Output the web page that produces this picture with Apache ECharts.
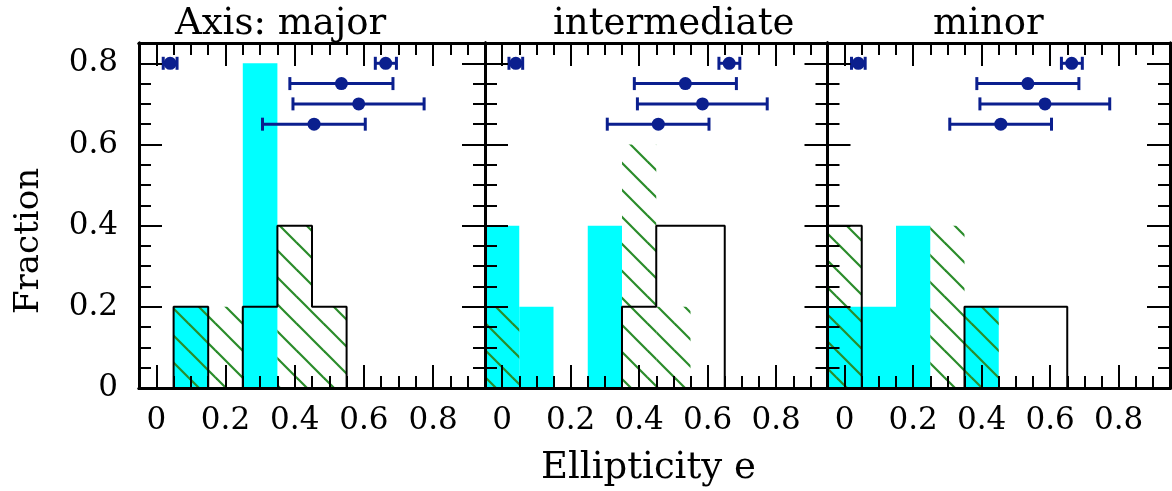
<!DOCTYPE html>
<html><head><meta charset="utf-8">
<script src="https://cdn.jsdelivr.net/npm/echarts@6/dist/echarts.min.js"></script>
<style>html,body{margin:0;padding:0;background:#fff}#c{width:1172px;height:491px}</style>
</head><body><div id="c"></div>
<script>
// ---------------- data ----------------
const panelTitles = ['Axis: major', 'intermediate', 'minor'];
const binCenters = [0, 0.1, 0.2, 0.3, 0.4, 0.5, 0.6, 0.7, 0.8, 0.9];
// cyan filled histograms
const cyanMajor = [0, 0.2, 0, 0.8, 0, 0, 0, 0, 0, 0];
const cyanInter = [0.4, 0.2, 0, 0.4, 0, 0, 0, 0, 0, 0];
const cyanMinor = [0.2, 0.2, 0.4, 0, 0.2, 0, 0, 0, 0, 0];
// green hatched histograms
const hatchMajor = [0, 0.2, 0.2, 0, 0.4, 0.2, 0, 0, 0, 0];
const hatchInter = [0.2, 0, 0, 0, 0.6, 0.2, 0, 0, 0, 0];
const hatchMinor = [0.4, 0, 0, 0.4, 0.2, 0, 0, 0, 0, 0];
// black outline histograms
const stepMajor = [0, 0.2, 0, 0.2, 0.4, 0.2, 0, 0, 0, 0];
const stepInter = [0, 0, 0, 0, 0.2, 0.4, 0.4, 0, 0, 0];
const stepMinor = [0.4, 0, 0, 0, 0.2, 0.2, 0.2, 0, 0, 0];
// points with horizontal error bars (same in every panel)
const errX  = [0.040, 0.663, 0.535, 0.585, 0.456];
const errY  = [0.80, 0.80, 0.75, 0.70, 0.65];
const errLo = [0.020, 0.633, 0.386, 0.395, 0.307];
const errHi = [0.060, 0.694, 0.684, 0.774, 0.604];
// ticks and labels
const xLabelValues = [0, 0.2, 0.4, 0.6, 0.8];
const xShortTicks = [-0.05, 0, 0.05, 0.1, 0.15, 0.2, 0.25, 0.3, 0.35, 0.4, 0.45, 0.5, 0.55, 0.6, 0.65, 0.7, 0.75, 0.8, 0.85, 0.9, 0.95];
const yLabelValues = [0, 0.2, 0.4, 0.6, 0.8];
const yShortTicks = [0, 0.05, 0.1, 0.15, 0.2, 0.25, 0.3, 0.35, 0.4, 0.45, 0.5, 0.55, 0.6, 0.65, 0.7, 0.75, 0.8, 0.85];
const xRange = [-0.05, 0.95];
const yRange = [0, 0.85];

// ---------------- layout / style ----------------
const cyanSets = [cyanMajor, cyanInter, cyanMinor];
const hatchSets = [hatchMajor, hatchInter, hatchMinor];
const stepSets = [stepMajor, stepInter, stepMinor];
const grids = [
  {left: 139, top: 43, width: 346, height: 345},
  {left: 485, top: 43, width: 342.5, height: 345},
  {left: 827.5, top: 43, width: 342.5, height: 345}
];
const FONT = 'DejaVu Serif';
const ERR_COLOR = '#0b1f8e';
const HATCH_COLOR = '#2a8c2a';
const binW = binCenters[1] - binCenters[0];

function makeHatch() {
  const s = 27;
  const c = document.createElement('canvas');
  c.width = s; c.height = s;
  const g = c.getContext('2d');
  g.strokeStyle = HATCH_COLOR;
  g.lineWidth = 2.2;
  for (let k = -1; k <= 1; k++) {
    g.beginPath();
    g.moveTo(-2 + k * s, -2);
    g.lineTo(s + 2 + k * s, s + 2);
    g.stroke();
  }
  return c;
}
const hatchPattern = {image: makeHatch(), repeat: 'repeat'};

function xAx(gi, pos, len, ticks, label) {
  return {
    type: 'value', gridIndex: gi, position: pos, min: xRange[0], max: xRange[1], z: 10,
    axisLine: {show: true, onZero: false, lineStyle: {color: '#000', width: 3}},
    axisTick: {show: true, inside: true, length: len, customValues: ticks, lineStyle: {color: '#000', width: 2}},
    axisLabel: label ? {show: true, customValues: xLabelValues, margin: 17, color: '#000',
      fontFamily: FONT, fontSize: 31, formatter: v => String(+v.toFixed(2))} : {show: false},
    splitLine: {show: false}
  };
}
function yAx(gi, pos, len, ticks, label) {
  return {
    type: 'value', gridIndex: gi, position: pos, min: yRange[0], max: yRange[1], z: 10,
    axisLine: {show: true, onZero: false, lineStyle: {color: '#000', width: 3}},
    axisTick: {show: true, inside: true, length: len, customValues: ticks, lineStyle: {color: '#000', width: 2}},
    axisLabel: label ? {show: true, customValues: yLabelValues, margin: 21, color: '#000',
      fontFamily: FONT, fontSize: 31, formatter: v => String(+v.toFixed(2))} : {show: false},
    splitLine: {show: false}
  };
}

const xAxes = [], yAxes = [], series = [];
grids.forEach((g, p) => {
  xAxes.push(xAx(p, 'bottom', 23, xLabelValues, true));
  xAxes.push(xAx(p, 'bottom', 12, xShortTicks, false));
  xAxes.push(xAx(p, 'top', 23, xLabelValues, false));
  xAxes.push(xAx(p, 'top', 12, xShortTicks, false));
  yAxes.push(yAx(p, 'left', 23, yLabelValues, p === 0));
  yAxes.push(yAx(p, 'left', 12, yShortTicks, false));
  yAxes.push(yAx(p, 'right', 23, yLabelValues, false));
  yAxes.push(yAx(p, 'right', 12, yShortTicks, false));
  const xi = 4 * p, yi = 4 * p;
  const histItem = (fill) => function (params, api) {
    const c = api.value(0), v = api.value(1);
    const a = api.coord([c - binW / 2, v]);
    const b = api.coord([c + binW / 2, 0]);
    return {type: 'rect', shape: {x: a[0], y: a[1], width: b[0] - a[0], height: b[1] - a[1]},
      style: {fill: fill, stroke: null}};
  };
  series.push({
    type: 'custom', xAxisIndex: xi, yAxisIndex: yi, z: 2, clip: true,
    renderItem: histItem('#00ffff'),
    data: binCenters.map((c, i) => [c, cyanSets[p][i]]).filter(d => d[1] > 0)
  });
  series.push({
    type: 'custom', xAxisIndex: xi, yAxisIndex: yi, z: 3, clip: true,
    renderItem: histItem(hatchPattern),
    data: binCenters.map((c, i) => [c, hatchSets[p][i]]).filter(d => d[1] > 0)
  });
  series.push({
    type: 'line', xAxisIndex: xi, yAxisIndex: yi, z: 4, step: 'middle', showSymbol: false,
    symbol: 'none', lineStyle: {color: '#000', width: 2}, animation: false,
    data: [[binCenters[0] - binW, 0]].concat(binCenters.map((c, i) => [c, stepSets[p][i]]),
      [[binCenters[binCenters.length - 1] + binW, 0]])
  });
  series.push({
    type: 'custom', xAxisIndex: xi, yAxisIndex: yi, z: 5, clip: false,
    renderItem: function (params, api) {
      const pc = api.coord([api.value(0), api.value(1)]);
      const pl = api.coord([api.value(2), api.value(1)]);
      const ph = api.coord([api.value(3), api.value(1)]);
      const ls = {stroke: ERR_COLOR, lineWidth: 3};
      return {type: 'group', children: [
        {type: 'line', shape: {x1: pl[0], y1: pc[1], x2: ph[0], y2: pc[1]}, style: ls},
        {type: 'line', shape: {x1: pl[0], y1: pc[1] - 6.5, x2: pl[0], y2: pc[1] + 6.5}, style: ls},
        {type: 'line', shape: {x1: ph[0], y1: pc[1] - 6.5, x2: ph[0], y2: pc[1] + 6.5}, style: ls},
        {type: 'circle', shape: {cx: pc[0], cy: pc[1], r: 6.5}, style: {fill: ERR_COLOR}}
      ]};
    },
    data: errX.map((x, i) => [x, errY[i], errLo[i], errHi[i]])
  });
});

const titleStyle = {fontFamily: FONT, fontSize: 37, fontWeight: 'normal', color: '#000'};
const chart = echarts.init(document.getElementById('c'), null, {renderer: 'canvas'});
chart.setOption({
  animation: false,
  backgroundColor: '#fff',
  title: [
    {text: panelTitles[0], left: 175, top: 6, padding: 0, textStyle: titleStyle},
    {text: panelTitles[1], left: 553, top: 6, padding: 0, textStyle: titleStyle},
    {text: panelTitles[2], left: 933, top: 6, padding: 0, textStyle: titleStyle},
    {text: 'Ellipticity e', left: 541, top: 450, padding: 0, textStyle: titleStyle}
  ],
  graphic: [{
    type: 'text', x: 29, y: 241, rotation: Math.PI / 2,
    style: {text: 'Fraction', fontFamily: FONT, fontSize: 34, fill: '#000', align: 'center', verticalAlign: 'middle'}
  }],
  grid: grids.map(g => Object.assign({show: false, containLabel: false}, g)),
  xAxis: xAxes,
  yAxis: yAxes,
  series: series
});
</script></body></html>
